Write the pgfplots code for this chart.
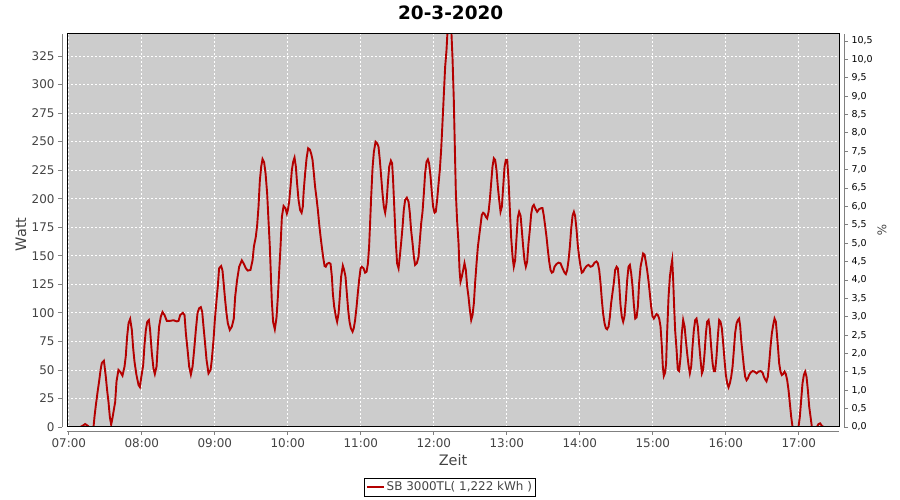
\documentclass[border=0pt]{standalone}
\usepackage{pgfplots}
\pgfplotsset{compat=1.18}
\usepackage{fontspec}
\setmainfont{DejaVu Sans}
\definecolor{plotbg}{RGB}{204,204,204}
\definecolor{linered}{RGB}{180,0,0}
\definecolor{axgray}{RGB}{128,128,128}
\definecolor{labgray}{RGB}{68,68,68}
\begin{document}
\begin{tikzpicture}[x=1bp,y=1bp]
\useasboundingbox (0,0) rectangle (900,500);
\begin{axis}[
  at={(67bp,73bp)}, anchor=south west,
  width=772bp, height=393bp, scale only axis,
  xmin=-1.5, xmax=633, ymin=0, ymax=344.3,
  axis background/.style={fill=plotbg},
  axis x line*=bottom, axis y line*=left,
  axis x line shift=4bp, axis y line shift=5bp,
  axis line style={axgray, line width=0.8bp},
  tick align=outside, major tick length=4bp,
  tick style={axgray, line width=0.8bp},
  xtick={0,60,...,600},
  xticklabels={07:00,08:00,09:00,10:00,11:00,12:00,13:00,14:00,15:00,16:00,17:00},
  ytick={0,25,...,325},
  grid=major,
  major grid style={white, dash pattern=on 2bp off 2bp, line width=0.8bp},
  /pgf/number format/assume math mode=true,
  tick label style={font=\fontsize{12}{14}\selectfont, text=labgray},
  xlabel={Zeit}, ylabel={Watt},
  xlabel style={at={(axis description cs:0.5,-0.084)}, anchor=center, font=\fontsize{14.5}{17}\selectfont, text=labgray},
  ylabel style={at={(axis description cs:-0.0596,0.49)}, anchor=center, font=\fontsize{14.5}{17}\selectfont, text=labgray},
  title={20-3-2020},
  title style={at={(axis description cs:0.497,1)}, anchor=center, yshift=15bp, font=\bfseries\fontsize{18.5}{21}\selectfont},
  legend style={at={(axis description cs:0.496,-0.1527)}, anchor=center, draw=black, font=\fontsize{12}{14}\selectfont, text=labgray, inner sep=1.5bp},
  after end axis/.code={\draw[black, line width=1bp] (rel axis cs:0,0) rectangle (rel axis cs:1,1);},
]
\addplot[linered, line width=1.9bp] coordinates {
(9.3,0) (11.3,1) (13.4,2.6) (15.6,1) (16.7,0) (20.3,0) (21.1,9) (22.2,19) (23.8,32) (24.9,40) (26.1,50) (27.1,56) (28.8,58) (29.3,54) (30.4,44) (31.5,32) (32.6,22) (33.7,9) (34.8,2) (35.9,8) (37.0,15) (38.1,22) (39.2,40) (40.8,50) (42.5,48) (44.1,45) (45.8,53) (46.8,62) (47.9,79) (49.1,91) (50.4,94.6) (51.8,85) (52.8,70) (54.0,57) (55.6,45.5) (57.3,36.8) (58.4,35) (59.4,42.6) (61.1,54) (62.2,72) (63.3,85) (64.4,92) (65.8,93.7) (66.8,85) (68.2,65) (69.6,51) (70.7,46.4) (72.1,53) (73.2,73) (74.2,88) (75.6,96.6) (77.0,100.7) (78.7,98) (80.5,93) (83.3,93) (86.1,93.5) (88.8,92.5) (90.2,93) (91.5,98) (93.7,100) (95.1,98) (96.2,82) (97.6,67.5) (98.9,53) (100.3,46) (101.7,53) (103.0,67.5) (104.4,85) (105.8,100) (107.1,104) (108.5,105) (109.6,101) (110.7,88) (112.0,73) (113.2,58.7) (114.8,47) (116.5,50) (117.5,58.7) (118.9,76) (120.0,93.7) (121.4,111) (122.5,124) (123.5,139) (125.2,141) (126.3,137) (127.4,124) (128.5,111) (129.6,99.5) (130.7,90.8) (132.3,85) (134.0,88) (135.6,95) (136.7,114) (138.3,128.8) (140.0,140.4) (142.2,146) (143.8,143) (145.5,139) (147.1,137) (149.3,137.6) (151.0,146) (152.1,158) (153.7,166.7) (154.8,177) (155.9,193) (157.0,216) (158.1,228) (159.2,234.8) (160.5,232) (161.7,222) (163.0,204.7) (164.1,181) (165.2,158) (166.0,134.6) (166.8,111) (167.9,92) (169.3,85.6) (170.7,96) (171.8,114) (172.8,134.6) (174.0,158) (175.1,184) (176.5,193.6) (178.1,191.6) (179.2,187) (180.0,190) (181.1,197.4) (182.2,210.5) (183.3,225) (184.4,232.4) (185.5,236) (186.6,228) (187.6,213.5) (188.8,198.9) (190.1,190) (191.3,187.7) (192.3,193) (193.1,207.6) (194.2,222) (195.4,235.4) (196.7,244.2) (198.1,243) (199.1,239.8) (200.3,234) (201.4,222) (202.4,210.5) (203.6,200.3) (204.7,190) (205.7,178.4) (206.9,166.7) (207.9,158) (209.0,149) (210.2,141) (211.2,140.4) (212.3,143) (213.9,143.8) (215.1,143) (216.2,131.7) (217.0,117) (218.1,105.4) (219.5,96.6) (220.5,92.2) (221.7,99.5) (222.7,114) (223.8,131.7) (225.2,141.3) (226.3,137.5) (227.4,131.7) (228.5,117) (229.6,102.5) (230.7,92.2) (231.8,86.5) (233.2,83.5) (234.2,86.5) (235.3,93.7) (236.5,105.4) (237.5,117) (238.6,128.8) (239.8,139) (240.8,140.4) (242.2,139) (243.5,135.2) (244.7,136) (245.8,143) (246.8,158) (247.6,178.4) (248.5,201.8) (249.6,226.6) (250.7,241) (252.1,249.9) (253.4,248.5) (254.5,245.6) (255.6,234) (256.7,219.4) (257.8,204.7) (258.9,193) (260.0,187.7) (261.1,196) (262.2,213.5) (263.3,228) (264.7,233.3) (265.7,231) (266.5,216.4) (267.7,187.2) (268.8,161) (269.8,143.4) (271.0,139) (272.0,149) (273.1,161) (274.3,175.5) (275.3,190) (276.4,198.9) (277.8,200.9) (279.2,197.4) (280.3,187.2) (281.3,172.6) (282.5,161) (283.6,149) (284.6,142) (286.0,143.4) (287.4,149) (288.5,163.8) (289.6,178.4) (290.7,188.6) (291.8,204.7) (292.8,222) (294.0,232.4) (295.1,234.5) (296.1,231) (297.3,219.3) (298.4,204.7) (299.4,193) (300.6,187.7) (301.6,188.6) (302.7,198.9) (303.9,213.5) (304.9,225) (306.0,242.6) (306.8,260) (307.6,277.6) (308.5,298) (309.3,315.6) (310.4,330) (311.3,348) (312.6,360) (314.2,352) (315.4,321.5) (316.4,286.5) (317.3,242.6) (318.1,204.7) (319.1,181) (320.3,161) (321.1,137.5) (321.9,127.3) (323.0,131.7) (324.1,137.5) (325.2,143.4) (326.3,137.5) (327.4,123) (328.5,114) (329.6,102.5) (330.7,93.7) (331.8,98) (332.9,108.4) (333.9,126) (335.1,143.4) (336.2,158) (337.2,166.7) (338.4,177) (339.4,185.7) (340.5,187.7) (341.7,186.6) (342.7,184.2) (343.8,182.7) (345.0,188.6) (346.0,198.9) (347.1,213.5) (348.2,228) (349.3,235.4) (350.4,234) (351.5,225) (352.6,210.5) (353.7,198.9) (354.8,188.6) (355.9,193) (357.0,210.5) (358.1,228) (359.2,234) (360.3,234) (361.4,216.4) (362.5,190) (363.5,166.7) (364.7,149) (365.7,140.4) (366.8,146) (368.0,166.7) (369.0,183.5) (370.1,188.5) (371.3,185) (372.3,172.6) (373.4,158) (374.5,146) (375.6,140.4) (376.7,145) (377.8,161) (378.9,172.6) (380.0,186.6) (381.1,193) (382.2,194.6) (383.3,191.7) (384.9,188.5) (386.5,190.8) (388.2,191.7) (389.3,191.7) (390.4,185) (391.5,175.9) (392.6,166.7) (393.7,155) (394.8,145) (395.9,137.5) (397.0,135.2) (398.1,136) (399.2,140.4) (400.8,142.8) (402.5,144) (404.1,143.4) (405.8,139) (407.4,135.2) (408.5,134) (409.6,137.5) (410.7,146) (411.8,158) (412.8,172.6) (414.0,185) (415.1,188.5) (416.1,185) (417.3,172.6) (418.3,159.4) (419.4,149) (420.6,140.4) (421.6,135.2) (422.7,136) (423.8,138.5) (425.5,141) (427.1,142) (428.8,140.4) (430.4,141) (432.1,144) (433.7,145) (434.8,143.4) (435.9,137.5) (437.0,126) (438.1,111) (439.1,99.6) (440.3,90.8) (441.4,86.5) (442.4,85.6) (443.6,88) (444.7,96.6) (445.7,108.4) (447.9,126) (449.0,137.5) (450.2,140.4) (451.2,139) (452.3,126) (453.4,107) (454.5,96.6) (455.6,92.2) (456.7,97) (457.8,111) (458.9,128.8) (460.0,140.4) (461.1,142) (462.2,134.6) (463.3,123) (464.4,107) (465.5,95) (466.6,96) (467.7,105.4) (468.7,126) (469.9,140.4) (471.0,146.3) (472.0,152) (473.2,150.9) (474.2,144.8) (475.3,137.5) (476.5,127.3) (477.5,117) (478.6,105.4) (479.7,97) (480.8,95) (481.9,97) (483.0,99) (484.1,98) (485.2,95) (486.3,88) (487.4,70.4) (488.2,52.8) (489.0,44.7) (490.1,47.6) (490.9,55.8) (491.7,82) (492.9,114) (494.0,131.7) (495.0,140.4) (495.9,146.3) (496.7,128.8) (497.5,105.4) (498.3,85) (499.5,67.5) (500.5,50) (501.6,49) (502.8,61.6) (503.8,82) (504.9,93.7) (506.1,88) (507.1,76.2) (508.2,64.5) (509.3,54.3) (510.4,47) (511.5,52.8) (512.6,70.4) (513.7,85) (514.8,93.7) (515.9,95) (517.0,88) (518.0,73.3) (519.2,58.7) (520.3,47) (521.3,50) (522.5,64.5) (523.6,82) (524.6,92.2) (525.8,93.7) (526.8,86.5) (527.9,70.4) (529.1,55.8) (530.1,49) (531.2,49) (532.3,61.6) (533.4,79.3) (534.5,93.7) (535.6,92.2) (536.7,86.5) (537.8,73.3) (538.9,58.7) (540.0,45.5) (541.1,38.3) (542.2,34.8) (543.3,38.3) (544.4,44) (545.5,52.8) (546.6,67.5) (547.6,82) (548.8,90.8) (549.9,93.7) (550.9,95) (551.8,88) (552.6,76.2) (553.7,64.5) (554.8,52.8) (555.9,44) (557.0,41) (558.1,42.6) (559.1,45.5) (560.3,47.6) (561.9,49) (563.6,48.5) (565.2,47) (566.9,48.5) (568.5,49) (570.2,47.6) (571.2,44) (572.3,41.8) (573.4,40) (574.5,44) (575.6,55.8) (576.7,70.4) (577.8,82) (578.9,89.4) (580.0,95) (581.1,92.2) (581.9,82) (583.0,67.5) (583.8,55.8) (584.9,48.5) (586.0,45.5) (587.1,46.4) (588.2,48.5) (589.3,46.4) (590.4,41) (591.5,32.4) (592.6,20.7) (593.7,9) (594.8,0) (599.7,0) (600.8,9) (601.9,23.6) (603.0,38.3) (604.1,45.5) (605.2,48.5) (606.3,44) (607.4,32.4) (608.5,17.8) (609.6,9) (610.7,0) (614.8,0) (616.2,2.6) (617.5,3.2) (618.9,1) (620.3,0)
};
\addlegendentry{SB 3000TL( 1,222 kWh )}
\end{axis}
\begin{axis}[
  at={(67bp,73bp)}, anchor=south west,
  width=772bp, height=393bp, scale only axis,
  xmin=-1.5, xmax=633, ymin=0, ymax=10.69,
  axis x line=none, axis y line*=right, axis y line shift=5bp,
  axis line style={axgray, line width=0.8bp},
  tick align=outside, major tick length=4bp,
  tick style={axgray, line width=0.8bp},
  ytick={0,0.5,...,10.5},
  /pgf/number format/assume math mode=true,
  yticklabel style={font=\fontsize{9.5}{11}\selectfont, text=black, /pgf/number format/.cd, fixed, fixed zerofill, precision=1, use comma},
  ylabel={\%},
  ylabel style={at={(axis description cs:1.0557,0.5)}, anchor=center, rotate=180, font=\fontsize{12}{14}\selectfont, text=labgray},
]
\end{axis}
\end{tikzpicture}
\end{document}
